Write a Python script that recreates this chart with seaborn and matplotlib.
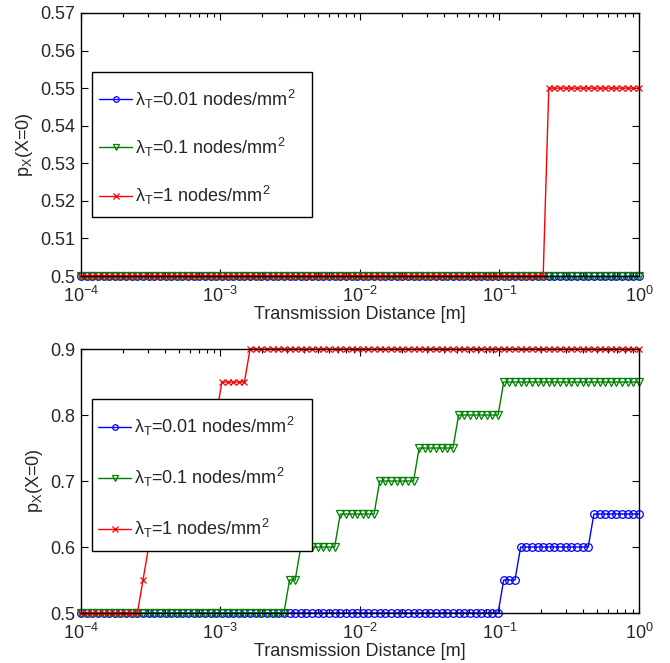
import numpy as np
import pandas as pd
import matplotlib
matplotlib.use("Agg")
import matplotlib.pyplot as plt
from matplotlib.patches import Rectangle
import seaborn as sns

# Sample distances (log-spaced grid, metres)
n_points = 100
distance = np.logspace(-4, 0, n_points)

series_labels = [
    r"λ$_\mathrm{T}$=0.01 nodes/mm$^\mathrm{2}$",
    r"λ$_\mathrm{T}$=0.1 nodes/mm$^\mathrm{2}$",
    r"λ$_\mathrm{T}$=1 nodes/mm$^\mathrm{2}$",
]

# Upper panel: probability levels and how many consecutive samples sit at each level
top_low_levels = [0.5]
top_low_counts = [100]
top_mid_levels = [0.5]
top_mid_counts = [100]
top_high_levels = [0.5, 0.55]
top_high_counts = [83, 17]

# Lower panel
bot_low_levels = [0.5, 0.55, 0.6, 0.65]
bot_low_counts = [75, 3, 13, 9]
bot_mid_levels = [0.5, 0.55, 0.6, 0.65, 0.7, 0.75, 0.8, 0.85]
bot_mid_counts = [37, 2, 7, 7, 7, 7, 8, 25]
bot_high_levels = [0.5, 0.55, 0.6, 0.65, 0.7, 0.75, 0.8, 0.85, 0.9]
bot_high_counts = [11, 1, 2, 3, 3, 3, 2, 5, 70]

top_yticks = [0.5, 0.51, 0.52, 0.53, 0.54, 0.55, 0.56, 0.57]
top_ylabels = ["0.5", "0.51", "0.52", "0.53", "0.54", "0.55", "0.56", "0.57"]
bot_yticks = [0.5, 0.6, 0.7, 0.8, 0.9]
bot_ylabels = ["0.5", "0.6", "0.7", "0.8", "0.9"]
xticks = [1e-4, 1e-3, 1e-2, 1e-1, 1]
xlabels = [r"10$^{-4}$", r"10$^{-3}$", r"10$^{-2}$", r"10$^{-1}$", r"10$^{0}$"]

colors = ["#0000ff", "#008000", "#ff0000"]
markers = ["o", "v", "x"]
marker_sizes = [5.5, 6.0, 4.5]

sns.set_style("ticks")
plt.rcParams["font.family"] = ["Liberation Sans", "DejaVu Sans"]
plt.rcParams["mathtext.fontset"] = "custom"
plt.rcParams["mathtext.rm"] = "Liberation Sans"
plt.rcParams["mathtext.it"] = "Liberation Sans:italic"
plt.rcParams["mathtext.bf"] = "Liberation Sans:bold"
plt.rcParams["font.size"] = 10


def expand(levels, counts):
    return np.repeat(levels, counts)


fig = plt.figure(figsize=(6.7, 6.63), dpi=100)
ax_top = fig.add_axes([0.1209, 0.5837, 0.8328, 0.3967])
ax_bot = fig.add_axes([0.1209, 0.0754, 0.8328, 0.3982])

# (axes, series, y-range, ticks, tick labels, legend anchor, legend row gap, legend frame)
panels = [
    (ax_top,
     [(top_low_levels, top_low_counts), (top_mid_levels, top_mid_counts),
      (top_high_levels, top_high_counts)],
     (0.5, 0.57), top_yticks, top_ylabels,
     (0.0323, 0.716), 1.38, (0.0203, 0.2243, 0.3942, 0.5525)),
    (ax_bot,
     [(bot_low_levels, bot_low_counts), (bot_mid_levels, bot_mid_counts),
      (bot_high_levels, bot_high_counts)],
     (0.5, 0.9), bot_yticks, bot_ylabels,
     (0.0312, 0.751), 1.55, (0.0192, 0.2348, 0.3942, 0.5747)),
]

for ax, series, ylim, yticks, ylabels, anchor, rowgap, frame in panels:
    frames = []
    for (levels, counts), label in zip(series, series_labels):
        frames.append(pd.DataFrame({
            "distance": distance,
            "prob": expand(levels, counts),
            "series": label,
        }))
    df = pd.concat(frames, ignore_index=True)
    for label, color, marker, ms in zip(series_labels, colors, markers, marker_sizes):
        sub = df[df["series"] == label]
        sns.lineplot(
            data=sub, x="distance", y="prob", ax=ax, color=color,
            marker=marker, markersize=ms,
            markerfacecolor="none", markeredgecolor=color,
            markeredgewidth=0.9, linewidth=1.0, label=label,
            clip_on=False, estimator=None, sort=False,
        )
    ax.set_xscale("log")
    ax.set_xlim(1e-4, 1)
    ax.set_ylim(*ylim)
    ax.set_yticks(yticks)
    ax.set_yticklabels(ylabels)
    ax.set_xticks(xticks)
    ax.set_xticklabels(xlabels)
    ax.tick_params(which="both", direction="in", top=True, right=True,
                   labelsize=13, color="black", width=0.8)
    ax.tick_params(axis="x", which="major", pad=7)
    ax.tick_params(axis="y", which="major", pad=4)
    ax.tick_params(which="major", length=5)
    ax.tick_params(which="minor", length=3)
    for spine in ax.spines.values():
        spine.set_visible(True)
        spine.set_color("black")
        spine.set_linewidth(1.0)
    ax.set_xlabel("Transmission Distance [m]", fontsize=13, labelpad=0)
    ax.set_ylabel(r"p$_\mathrm{X}$(X=0)", fontsize=13, labelpad=4)

    # Legend box: white panel with a black outline, entries placed on top of it
    ax.add_patch(Rectangle((frame[0], frame[1]), frame[2], frame[3],
                           transform=ax.transAxes, facecolor="white",
                           edgecolor="black", linewidth=1.0, zorder=4,
                           clip_on=False))
    leg = ax.legend(
        loc="upper left", bbox_to_anchor=anchor,
        fontsize=13, frameon=False, labelspacing=rowgap,
        handlelength=1.83, handletextpad=0.15,
        borderpad=0.0, borderaxespad=0.0,
    )
    leg.set_zorder(5)
    for h in leg.legend_handles:
        h.set_markersize(4)

fig.savefig("out.png", dpi=100)
